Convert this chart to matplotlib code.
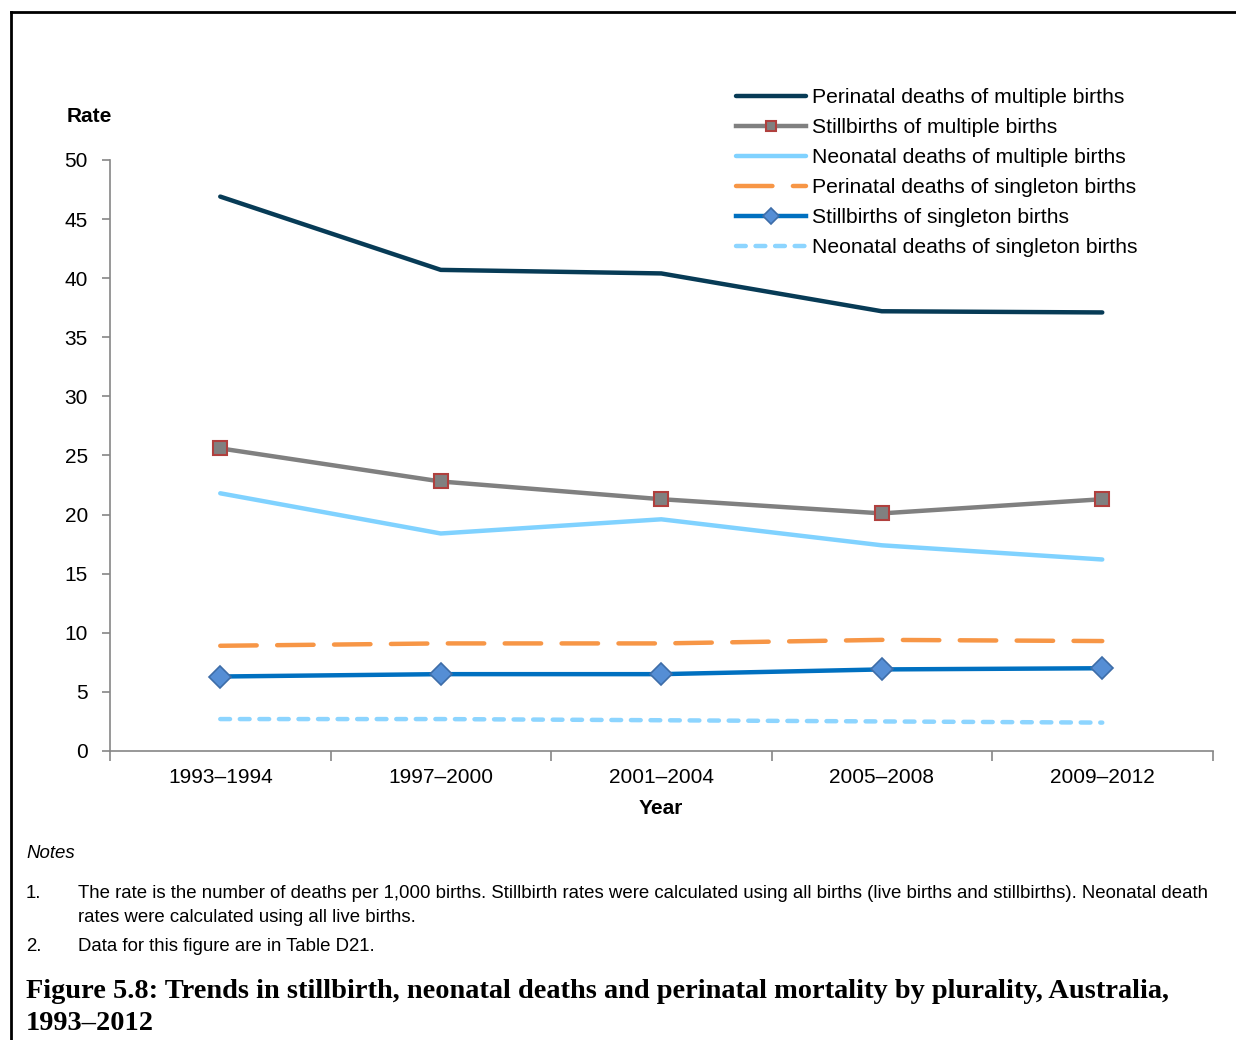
import matplotlib.pyplot as plt
import numpy as np

plt.rcParams['font.family'] = ['Liberation Sans', 'DejaVu Sans']

periods = ['1993–1994', '1997–2000', '2001–2004', '2005–2008', '2009–2012']
perinatal_multiple = [46.9, 40.7, 40.4, 37.2, 37.1]
stillbirths_multiple = [25.6, 22.8, 21.3, 20.1, 21.3]
neonatal_multiple = [21.8, 18.4, 19.6, 17.4, 16.2]
perinatal_singleton = [8.9, 9.1, 9.1, 9.4, 9.3]
stillbirths_singleton = [6.3, 6.5, 6.5, 6.9, 7.0]
neonatal_singleton = [2.7, 2.7, 2.6, 2.5, 2.4]

labels = ['Perinatal deaths of multiple births',
          'Stillbirths of multiple births',
          'Neonatal deaths of multiple births',
          'Perinatal deaths of singleton births',
          'Stillbirths of singleton births',
          'Neonatal deaths of singleton births']

fig = plt.figure(figsize=(12.36, 10.40), dpi=100)
ax = fig.add_axes([0.089, 0.2779, 0.892, 0.5683])
x = np.arange(len(periods))

lw = 3.2
ax.plot(x, perinatal_multiple, color='#073B56', lw=lw, solid_capstyle='round', label=labels[0])
ax.plot(x, stillbirths_multiple, color='#808080', lw=lw, marker='s', ms=10,
        mfc='#808080', mec='#B0403E', mew=1.5, label=labels[1])
ax.plot(x, neonatal_multiple, color='#80D2FF', lw=lw, solid_capstyle='round', label=labels[2])
ax.plot(x, perinatal_singleton, color='#F79646', lw=lw, dashes=(8.2, 4.6),
        dash_capstyle='round', label=labels[3])
ax.plot(x, stillbirths_singleton, color='#0070C0', lw=lw, marker='D', ms=11,
        mfc='#558ED5', mec='#3D6DA8', mew=1.2, label=labels[4])
ax.plot(x, neonatal_singleton, color='#8DD5FF', lw=lw, dashes=(2.2, 2.2),
        dash_capstyle='round', label=labels[5])

ax.set_xlim(-0.5, 4.5)
ax.set_ylim(0, 50)
ax.set_yticks(range(0, 51, 5))
ax.set_xticks(x)
ax.set_xticklabels(periods)
ax.set_xticks(np.arange(-0.5, 5, 1), minor=True)
ax.tick_params(axis='x', which='major', length=0, pad=12, labelsize=15)
ax.tick_params(axis='x', which='minor', length=7, color='#868686', width=1.2)
ax.tick_params(axis='y', length=6, color='#868686', width=1.2, pad=10, labelsize=15)
for s in ['top', 'right']:
    ax.spines[s].set_visible(False)
for s in ['left', 'bottom']:
    ax.spines[s].set_color('#868686')
    ax.spines[s].set_linewidth(1.2)

ax.set_xlabel('Year', fontsize=15, fontweight='bold', labelpad=9)
fig.text(0.054, 0.8875, 'Rate', fontsize=15, fontweight='bold', va='center')

fig.legend(loc='upper left', bbox_to_anchor=(0.5955, 0.915), frameon=False,
           fontsize=15.2, handlelength=3.3, handletextpad=0.3, labelspacing=0.52,
           borderpad=0, borderaxespad=0, markerscale=0.72)

fs = 13.45
fig.text(0.021, 0.179, 'Notes', fontsize=fs, style='italic', va='center')
fig.text(0.021, 0.141, '1.', fontsize=fs, va='center')
fig.text(0.063, 0.141, 'The rate is the number of deaths per 1,000 births. Stillbirth rates were calculated using all births (live births and stillbirths). Neonatal death',
         fontsize=fs, va='center')
fig.text(0.063, 0.118, 'rates were calculated using all live births.', fontsize=fs, va='center')
fig.text(0.021, 0.090, '2.', fontsize=fs, va='center')
fig.text(0.063, 0.090, 'Data for this figure are in Table D21.', fontsize=fs, va='center')

fig.text(0.021, 0.047, 'Figure 5.8: Trends in stillbirth, neonatal deaths and perinatal mortality by plurality, Australia,',
         fontsize=20.4, fontweight='bold', family=['Liberation Serif'], va='center')
fig.text(0.021, 0.016, '1993–2012', fontsize=20.4, fontweight='bold', family=['Liberation Serif'], va='center')

# frame around figure (left and top edges)
fig.add_artist(plt.Line2D([0.0085, 0.0085], [0, 0.9885], color='black', lw=2, transform=fig.transFigure))
fig.add_artist(plt.Line2D([0.0085, 1.0], [0.9885, 0.9885], color='black', lw=2, transform=fig.transFigure))

fig.savefig('out.png', dpi=100)
